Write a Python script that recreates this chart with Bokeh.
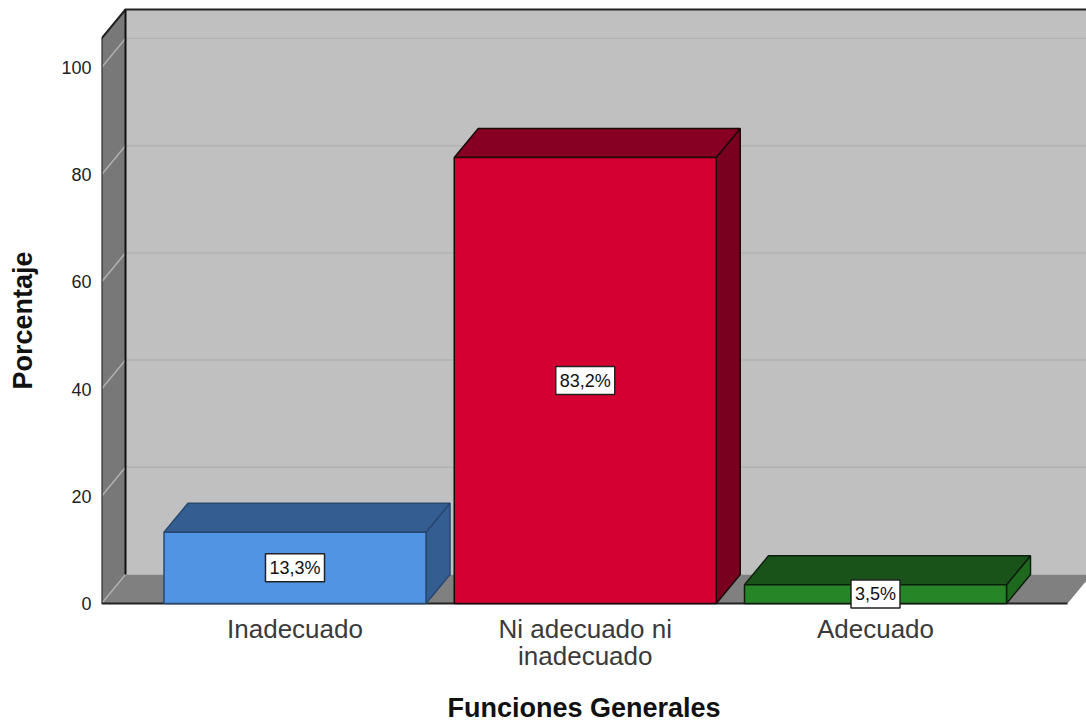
from bokeh.plotting import figure
from bokeh.models import Label, FixedTicker, Range1d, Title
from bokeh.embed import file_html
from bokeh.resources import INLINE

categories = ["Inadecuado", "Ni adecuado ni\ninadecuado", "Adecuado"]
percentages = [13.3, 83.2, 3.5]
value_labels = ["13,3%", "83,2%", "3,5%"]
y_ticks = [0, 20, 40, 60, 80, 100]
x_title = "Funciones Generales"
y_title = "Porcentaje"
front_colors = ["#5294E4", "#D50032", "#268526"]
top_colors = ["#345E92", "#870023", "#1A531A"]
side_colors = ["#345E92", "#7A0020", "#1E691E"]
edge_colors = ["#27486F", "#1A0A0A", "#0E1E0E"]

FONT = "Liberation Sans"
PX_X, PX_Y = 290.25, 5.36          # pixels per unit
X0_PX, Y0_PX = 294.5, 603          # pixel of x=1, y=0
FRAME_BOTTOM = 610
DX, DY = 24 / PX_X, 29 / PX_Y      # 3D depth
BAR_W = 262 / PX_X
XF0, XF1 = 1 + (101 - X0_PX) / PX_X, 1 + (1067 - X0_PX) / PX_X
XEND = 1 + (1086 - X0_PX) / PX_X
YTOP = Y0_PX / PX_Y
YSTART = -(FRAME_BOTTOM - Y0_PX) / PX_Y
WALL_TOP = (Y0_PX - 38) / PX_Y

p = figure(width=1086, height=722, output_backend="svg", toolbar_location=None,
           x_range=Range1d(XF0, XEND), y_range=Range1d(YSTART, YTOP),
           min_border_left=101, min_border_right=0, min_border_top=0, min_border_bottom=722 - FRAME_BOTTOM,
           outline_line_color=None, background_fill_color="white")
p.grid.visible = False

# back wall
p.patch([XF0 + DX, XEND + 1, XEND + 1, XF0 + DX], [DY, DY, WALL_TOP + DY, WALL_TOP + DY],
        fill_color="#C0C0C0", line_color=None)
# floor
p.patch([XF0, XF1, XF1 + DX, XF0 + DX], [0, 0, DY, DY], fill_color="#808080", line_color=None)
# back-wall grid
for t in y_ticks[1:]:
    p.line([XF0 + DX, XEND + 1], [t + DY, t + DY], line_color="#B2B2B2", line_width=1.5)
# side wall
p.patch([XF0, XF0 + DX, XF0 + DX, XF0], [0, DY, WALL_TOP + DY, WALL_TOP],
        fill_color="#787878", line_color=None)
for t in y_ticks:
    p.line([XF0, XF0 + DX], [t, t + DY], line_color="#B0B0B0", line_width=1.5)
# frame edges
p.line([XF0, XF0, XF0 + DX, XEND + 1], [0, WALL_TOP, WALL_TOP + DY, WALL_TOP + DY],
       line_color="#222222", line_width=2)
p.line([XF0 + DX, XF0 + DX], [DY, WALL_TOP + DY], line_color="#111111", line_width=2)
p.line([XF0, XF1], [0, 0], line_color="#222222", line_width=2)

# bars
for i, v in enumerate(percentages):
    l, r = i + 1 - BAR_W / 2, i + 1 + BAR_W / 2
    p.patch([r, r + DX, r + DX, r], [0, DY, v + DY, v], fill_color=side_colors[i],
            line_color=edge_colors[i], line_width=1.5)
    p.patch([l, r, r + DX, l + DX], [v, v, v + DY, v + DY], fill_color=top_colors[i],
            line_color=edge_colors[i], line_width=1.5)
    p.patch([l, r, r, l], [0, 0, v, v], fill_color=front_colors[i],
            line_color=edge_colors[i], line_width=1.5)
    p.add_layout(Label(x=i + 1, y=v / 2, text=value_labels[i], text_align="center", text_baseline="middle",
                       text_font=FONT, text_font_size="18px", text_color="#111111", padding=4,
                       background_fill_color="white", border_line_color="#222222", border_line_width=1.5,
                       level="overlay"))

p.xaxis.ticker = FixedTicker(ticks=[1, 2, 3])
p.xaxis.major_label_overrides = {i + 1: c for i, c in enumerate(categories)}
p.xaxis.major_label_text_font = FONT
p.xaxis.major_label_text_font_size = "26px"
p.xaxis.major_label_text_color = "#3A3A3A"
p.xaxis.major_label_text_line_height = 0.9
p.xaxis.major_label_standoff = -3
p.xaxis.axis_label = " "
p.xaxis.axis_label_text_font_size = "1px"
p.xaxis.axis_label_standoff = 13
p.yaxis.ticker = FixedTicker(ticks=y_ticks)
p.yaxis.major_label_text_font = FONT
p.yaxis.major_label_text_font_size = "18px"
p.yaxis.major_label_text_color = "#222222"
p.yaxis.major_label_standoff = 4
p.yaxis.axis_label = " "
p.yaxis.axis_label_text_font_size = "1px"
p.yaxis.axis_label_standoff = 17
for ax in (p.xaxis, p.yaxis):
    ax.axis_line_color = None
    ax.major_tick_line_color = None
    ax.minor_tick_line_color = None

p.add_layout(Title(text=x_title, align="left", offset=346, standoff=0, text_font=FONT,
                   text_font_style="bold", text_font_size="27px", text_color="#111111"), "below")
p.add_layout(Title(text=y_title, align="left", offset=FRAME_BOTTOM - 389, standoff=0, text_font=FONT,
                   text_font_style="bold", text_font_size="27px", text_color="#111111"), "left")

open("out.html", "w").write(file_html(p, INLINE))
